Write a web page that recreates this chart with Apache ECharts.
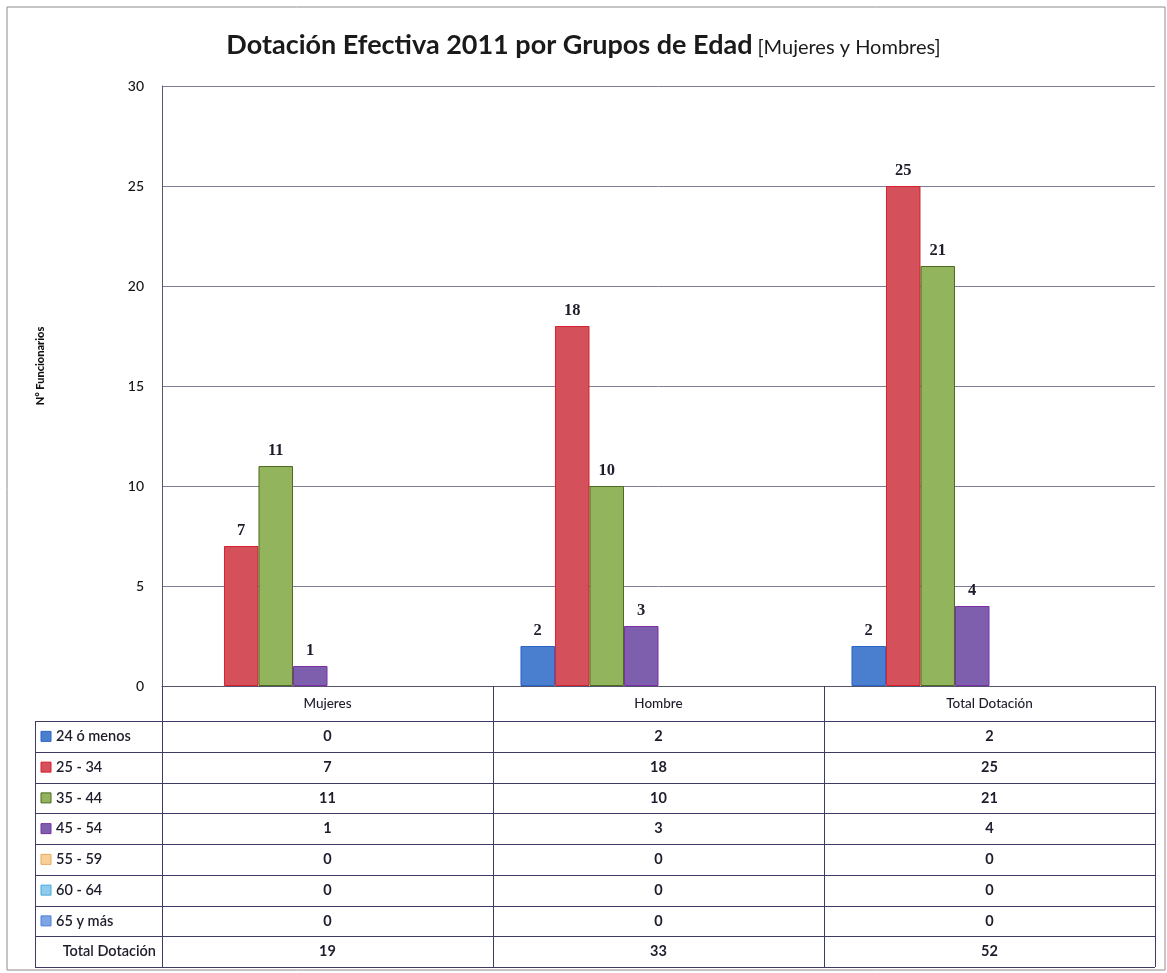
<!DOCTYPE html>
<html>
<head>
<meta charset="utf-8">
<title>Dotación Efectiva 2011</title>
<script src="https://cdn.jsdelivr.net/npm/echarts@6/dist/echarts.min.js"></script>
<style>
  html, body { margin: 0; padding: 0; background: #fff; }
  #chart { width: 1167px; height: 973px; }
</style>
</head>
<body>
<div id="chart"></div>
<script>
const categories = ["Mujeres", "Hombre", "Total Dotación"];
const ageGroups = ["24 ó menos", "25 - 34", "35 - 44", "45 - 54", "55 - 59", "60 - 64", "65 y más"];
const age24 = [0, 2, 2];
const age25 = [7, 18, 25];
const age35 = [11, 10, 21];
const age45 = [1, 3, 4];
const age55 = [0, 0, 0];
const age60 = [0, 0, 0];
const age65 = [0, 0, 0];
const totals = [19, 33, 52];
const totalLabel = "Total Dotación";
const yTicks = [0, 5, 10, 15, 20, 25, 30];

const seriesValues = [age24, age25, age35, age45, age55, age60, age65];
const fills = ["#4a7fcf", "#d4505a", "#92b45c", "#7e5fae", "#f9cf98", "#8fcbee", "#7ea6e6"];
const borders = ["#2a64c8", "#d81f2e", "#4d6b20", "#7a2fa6", "#e8a860", "#4aa8dc", "#4f7fd6"];

// layout
const W = 1167;
const gridLeft = 162, gridRight = 12, gridTop = 86, gridH = 600;
const headerH = 35, rowH = 30.75, labelColLeft = 35;
const font = "Lato, 'Open Sans', sans-serif";
const ink = "#1d1d2c";
const lineCol = "#3b3b66";

const chart = echarts.init(document.getElementById("chart"));

const series = seriesValues.map((vals, i) => ({
  name: ageGroups[i],
  type: "bar",
  // sin borde cuando el valor es cero
  data: vals.map((v) => (v === 0 ? { value: v, itemStyle: { borderWidth: 0 } } : v)),
  barGap: "0%",
  barCategoryGap: "16.6%",
  itemStyle: { color: fills[i], borderColor: borders[i], borderWidth: 1 },
  label: {
    show: true,
    position: "top",
    distance: 7,
    formatter: (p) => (p.value > 0 ? p.value : ""),
    fontFamily: "'Liberation Serif', serif",
    fontWeight: "bold",
    fontSize: 16.5,
    color: ink,
  },
}));
// serie de total (sin relleno, como en el gráfico original)
series.push({
  name: totalLabel,
  type: "bar",
  data: totals,
  barGap: "0%",
  barCategoryGap: "16.6%",
  itemStyle: { color: "rgba(0,0,0,0)" },
  label: { show: false },
  silent: true,
});

// tabla de datos dibujada con graphic
const bandW = (W - gridLeft - gridRight) / categories.length;
const tableTop = gridTop + gridH;
const bodyTop = tableTop + headerH;
const rowLabels = ageGroups.concat([totalLabel]);
const rowValues = seriesValues.concat([totals]);
const tableRight = gridLeft + bandW * categories.length;
const tableBottom = bodyTop + rowH * rowLabels.length;

const graphics = [];
// marco exterior
graphics.push({
  type: "rect",
  shape: { x: 7, y: 7, width: 1158, height: 963 },
  style: { fill: "none", stroke: "#8c8c8c", lineWidth: 1 },
  silent: true,
});
// título del eje Y
graphics.push({
  type: "text",
  x: 40,
  y: 366,
  rotation: Math.PI / 2,
  style: {
    text: "N° Funcionarios",
    fill: "#111",
    font: "900 11px " + font,
    textAlign: "center",
    textVerticalAlign: "middle",
  },
});
// líneas horizontales
for (let r = 0; r <= rowLabels.length; r++) {
  const y = Math.round(bodyTop + r * rowH) + 0.5;
  graphics.push({
    type: "line",
    shape: { x1: labelColLeft, y1: y, x2: tableRight, y2: y },
    style: { stroke: lineCol, lineWidth: 1 },
  });
}
// líneas verticales
const vx = [labelColLeft];
for (let c = 0; c <= categories.length; c++) vx.push(gridLeft + c * bandW);
vx.forEach((x, i) => {
  graphics.push({
    type: "line",
    shape: { x1: Math.round(x) + 0.5, y1: i === 0 ? bodyTop : tableTop, x2: Math.round(x) + 0.5, y2: tableBottom },
    style: { stroke: lineCol, lineWidth: 1 },
  });
});
// filas
rowLabels.forEach((lab, r) => {
  const cy = bodyTop + r * rowH + rowH / 2;
  const isTotal = r === ageGroups.length;
  if (!isTotal) {
    graphics.push({
      type: "rect",
      shape: { x: 41, y: cy - 5, width: 10, height: 10 },
      style: { fill: fills[r], stroke: borders[r], lineWidth: 1 },
    });
  }
  graphics.push({
    type: "text",
    x: isTotal ? 156 : 56,
    y: cy,
    style: {
      text: lab,
      fill: ink,
      font: "600 14.5px " + font,
      textAlign: isTotal ? "right" : "left",
      textVerticalAlign: "middle",
    },
  });
  rowValues[r].forEach((v, c) => {
    graphics.push({
      type: "text",
      x: gridLeft + (c + 0.5) * bandW,
      y: cy,
      style: {
        text: String(v),
        fill: ink,
        font: "bold 14.5px " + font,
        textAlign: "center",
        textVerticalAlign: "middle",
      },
    });
  });
});

const option = {
  animation: false,
  backgroundColor: "#fff",
  title: {
    text: "{a|Dotación Efectiva 2011 por Grupos de Edad} {b|[Mujeres y Hombres]}",
    left: "center",
    top: 27,
    textStyle: {
      rich: {
        a: { fontFamily: font, fontWeight: "bold", fontSize: 27, color: "#1a1a1a" },
        b: { fontFamily: font, fontWeight: "normal", fontSize: 20, color: "#1a1a1a", padding: [5, 0, 0, 0] },
      },
    },
  },
  legend: { show: false },
  grid: { left: gridLeft, right: gridRight, top: gridTop, height: gridH },
  xAxis: {
    type: "category",
    data: categories,
    axisLine: { lineStyle: { color: "#55556e", width: 1 } },
    axisTick: { show: true, length: headerH, lineStyle: { color: lineCol } },
    axisLabel: { margin: 11, fontFamily: font, fontSize: 13.5, fontWeight: 500, color: ink },
  },
  yAxis: {
    type: "value",
    min: yTicks[0],
    max: yTicks[yTicks.length - 1],
    interval: yTicks[1] - yTicks[0],
    axisLine: { show: true, lineStyle: { color: "#55556e" } },
    axisTick: { show: false },
    axisLabel: { margin: 18, fontFamily: font, fontSize: 14, fontWeight: 500, color: "#151515" },
    splitLine: { lineStyle: { color: "#7d7d98", width: 1 } },
  },
  series,
  graphic: graphics,
};

chart.setOption(option);
</script>
</body>
</html>
